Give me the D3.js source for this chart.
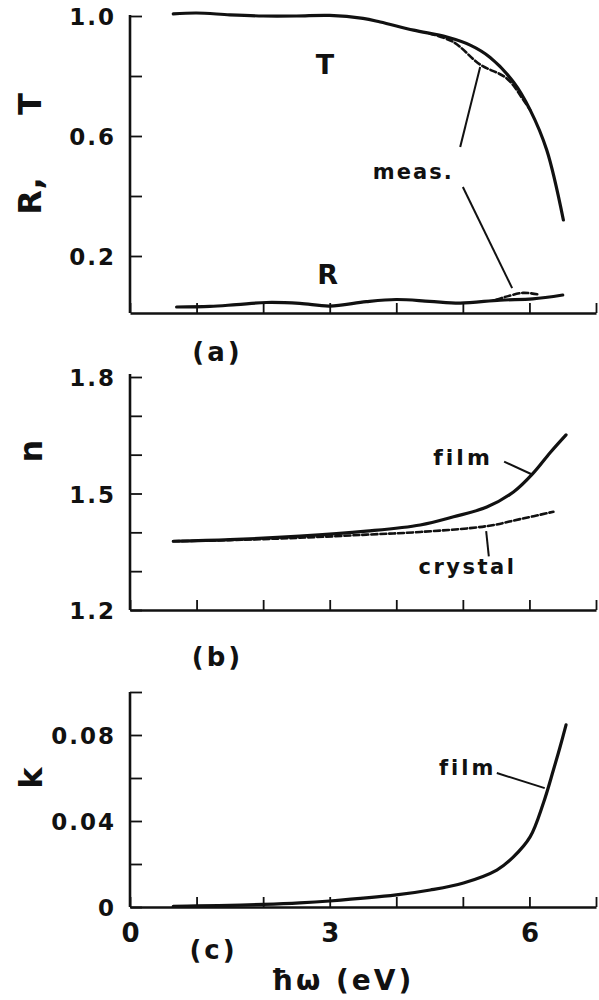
<!DOCTYPE html>
<html><head><meta charset="utf-8">
<script src="https://cdn.jsdelivr.net/npm/d3@7"></script>
<style>
body{margin:0;background:#fff;}
svg{display:block;}
text{font-family:"DejaVu Sans",sans-serif;font-weight:bold;fill:#111;}
</style></head><body>
<svg id="c" width="599" height="1000"></svg>
<script>
// ---- data (photon energy in eV) ----
const T_E    = [0.65,1.0,1.5,2.0,2.5,3.0,3.5,3.76,4.26,4.76,5.11,5.41,5.76,6.01,6.26,6.51];
const T_calc = [1.007,1.01,1.004,1.0,1.0,1.002,0.992,0.98,0.953,0.93,0.903,0.862,0.78,0.687,0.553,0.32];
const Tm_E   = [4.5,4.86,5.26,5.66,5.91,6.01];
const T_meas = [0.942,0.913,0.838,0.792,0.72,0.687];
const R_E    = [0.7,1.2,1.6,2.05,2.55,3.0,3.55,4.0,4.5,4.96,5.56,6.05,6.5];
const R_calc = [0.03,0.032,0.038,0.045,0.042,0.033,0.048,0.055,0.049,0.043,0.053,0.057,0.07];
const Rm_E   = [5.5,5.63,5.9,6.13];
const R_meas = [0.054,0.063,0.077,0.072];
const n_E    = [0.65,1.5,2.55,3.55,4.36,4.86,5.36,5.76,6.06,6.31,6.55];
const n_film = [1.377,1.381,1.39,1.403,1.419,1.44,1.465,1.504,1.553,1.605,1.651];
const nc_E   = [0.65,1.5,2.55,3.55,4.36,5.36,5.86,6.36];
const n_cry  = [1.377,1.380,1.386,1.394,1.401,1.416,1.434,1.453];
const k_E    = [0.65,1.0,1.5,2.0,2.55,3.0,4.0,4.51,5.01,5.51,5.76,6.01,6.21,6.36,6.46,6.55];
const k_film = [0.0003,0.0005,0.0008,0.0012,0.0019,0.0028,0.0056,0.0079,0.0112,0.0172,0.0233,0.0326,0.0484,0.0637,0.0744,0.0847];
const xTicks = [0,1,2,3,4,5,6,7];
const xLabels = [0,3,6];
const yTicksA = [0.2,0.4,0.6,0.8,1.0], yLabA = [0.2,0.6,1.0];
const yTicksB = [1.3,1.4,1.5,1.6,1.7,1.8], yLabB = [1.2,1.5,1.8];
const yTicksC = [0.02,0.04,0.06,0.08,0.1], yLabC = [0,0.04,0.08];

const svg = d3.select("#c");
const x = d3.scaleLinear().domain([0,7]).range([130,596]);
const yA = d3.scaleLinear().domain([0.01,1.0]).range([313,16]);
const yB = d3.scaleLinear().domain([1.2,1.8]).range([610,377]);
const yC = d3.scaleLinear().domain([0,0.1]).range([907,692]);

function axes(y, yTicks, yLabs, fmt, showX, yTop){
  const g = svg.append("g");
  const y0 = y.range()[0];
  const xa = d3.axisBottom(x).tickValues(xTicks).tickSize(-10).tickSizeOuter(0).tickPadding(16)
     .tickFormat(d => showX && xLabels.includes(d) ? d : "");
  const gx = g.append("g").attr("transform",`translate(0,${y0})`).call(xa);
  const allY = Array.from(new Set([...yTicks, ...yLabs])).sort((a,b)=>a-b);
  const ya = d3.axisLeft(y).tickValues(allY).tickSize(-12).tickSizeOuter(0).tickPadding(16)
     .tickFormat(d => yLabs.some(v=>Math.abs(v-d)<1e-9) ? fmt(d) : "");
  const gy = g.append("g").attr("transform",`translate(${x(0)},0)`).call(ya);
  gy.select(".domain").attr("d",`M0,${y0}V${yTop}`);
  [gx,gy].forEach(a=>{
    a.selectAll(".domain").attr("stroke","#111").attr("stroke-width",2.6);
    a.selectAll(".tick line").attr("stroke","#111").attr("stroke-width",1.8);
    a.selectAll(".tick text").attr("fill","#111")
      .style("font-family","'DejaVu Sans',sans-serif").style("font-weight","bold");
  });
  gy.selectAll(".tick text").attr("font-size",23).attr("letter-spacing",2).attr("dx",2).attr("dy","0.38em");
  gx.selectAll(".tick text").attr("font-size",26).attr("dy","0.72em");
}
axes(yA, yTicksA, yLabA, d3.format(".1f"), false, 15);
axes(yB, yTicksB, yLabB, d3.format(".1f"), false, 374);
axes(yC, yTicksC, yLabC, d => d===0 ? "0" : d3.format(".2f")(d), true, 692);

function curve(E, V, y, dashed){
  const line = d3.line().x((d,i)=>x(E[i])).y((d,i)=>y(V[i])).curve(d3.curveCatmullRom.alpha(0.5));
  svg.append("path").attr("d", line(V)).attr("fill","none").attr("stroke","#111")
    .attr("stroke-width", dashed ? 2.6 : 3.2).attr("stroke-linecap","round")
    .attr("stroke-dasharray", dashed ? "6,3" : null);
}
curve(T_E, T_calc, yA, false);
curve(Tm_E, T_meas, yA, true);
curve(R_E, R_calc, yA, false);
curve(Rm_E, R_meas, yA, true);
curve(n_E, n_film, yB, false);
curve(nc_E, n_cry, yB, true);
curve(k_E, k_film, yC, false);

function leader(y, e1, v1, e2, v2){
  svg.append("line").attr("x1",x(e1)).attr("y1",y(v1)).attr("x2",x(e2)).attr("y2",y(v2))
    .attr("stroke","#111").attr("stroke-width",2);
}
leader(yA, 4.96, 0.563, 5.26, 0.83);
leader(yA, 5.0, 0.43, 5.74, 0.093);
leader(yB, 5.62, 1.582, 6.04, 1.549);
leader(yB, 5.35, 1.403, 5.39, 1.338);
leader(yC, 5.51, 0.0623, 6.23, 0.0553);

function label(t, px, py, size, ls){
  svg.append("text").attr("x",px + (ls||0)/2).attr("y",py).attr("font-size",size)
    .attr("letter-spacing",ls||0).attr("text-anchor","middle")
    .attr("dominant-baseline","central").text(t);
}
label("T", x(2.93), yA(0.837), 27, 0);
label("R", x(2.97), yA(0.137), 27, 0);
label("meas.", x(4.24), yA(0.48), 21, 2);
label("film", x(4.98), yB(1.593), 22, 3);
label("crystal", x(5.05), yB(1.31), 21, 2.5);
label("film", x(5.05), yC(0.0646), 21, 3);
label("(a)", 216, 352, 26, 3);
label("(b)", 216, 657, 26, 3);
label("(c)", 212, 950, 26, 3);
label("ħω (eV)", 341, 980, 28, 3);

function ylab(t, cx, cy, size, ls){
  svg.append("text").attr("transform",`translate(${cx},${cy - ls/2}) rotate(-90)`)
    .attr("font-size",size).attr("letter-spacing",ls).attr("text-anchor","middle")
    .attr("dominant-baseline","central").text(t);
}
ylab("R,", 30, 196, 32, 0);
ylab("T", 30, 104, 32, 0);
ylab("n", 31, 451, 32, 0);
ylab("k", 31, 778, 32, 0);
</script></body></html>
